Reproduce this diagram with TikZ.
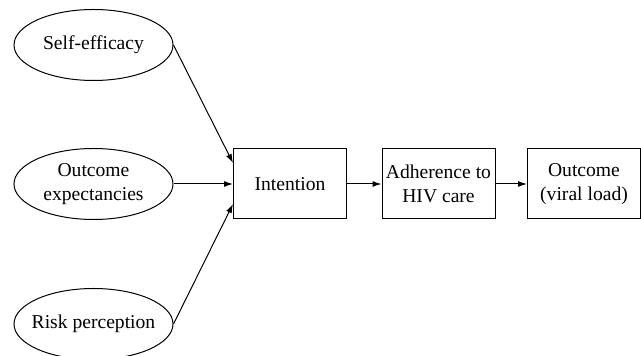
\documentclass[tikz,border=0pt]{standalone}
\usepackage{fontspec}
\setmainfont{Liberation Serif}
\usetikzlibrary{arrows.meta,shapes.geometric}
\begin{document}
\begin{tikzpicture}[x=0.5pt, y=-0.5pt,
  factor/.style={ellipse, draw, line width=0.5pt, minimum width=79.5pt, minimum height=35.5pt, align=center, inner xsep=-8pt, inner ysep=0pt},
  stage/.style={rectangle, draw, line width=0.5pt, minimum width=56.5pt, minimum height=35pt, align=center, inner sep=1pt},
  link/.style={line width=0.5pt, -{Latex[length=4.5pt, width=3pt]}},
  font=\fontsize{9.8}{11.8}\selectfont]
\useasboundingbox (0,0) rectangle (641,356);

\node [factor] (se) at (93.5,45) {Self-efficacy};
\node [factor] (oe) at (93.5,184) {Outcome\\expectancies};
\node [factor] (rp) at (93.5,324) {Risk perception};

\node [stage] (int) at (290,184) {Intention};
\node [stage] (adh) at (438.5,184) {Adherence to\\HIV care};
\node [stage] (out) at (584,184) {Outcome\\(viral load)};

\draw [link] (se.east) -- ([yshift=10.5pt]int.west);
\draw [link] (oe.east) -- (int.west);
\draw [link] (rp.east) -- ([yshift=-10pt]int.west);

\draw [link] (int) -- (adh);
\draw [link] (adh) -- (out);
\end{tikzpicture}
\end{document}
